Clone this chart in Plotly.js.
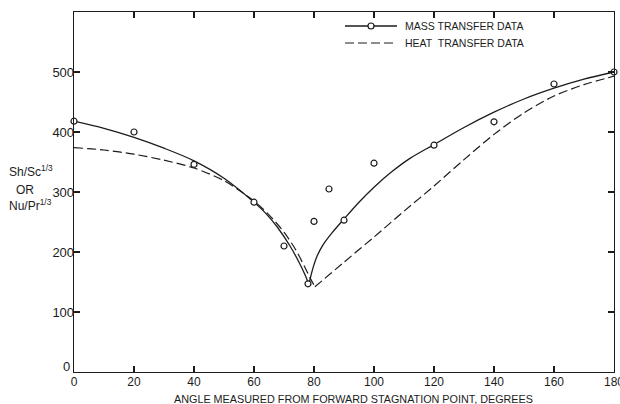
<!DOCTYPE html>
<html>
<head>
<meta charset="utf-8">
<script src="https://cdn.plot.ly/plotly-3.0.1.min.js"></script>
<style>
  html, body { margin: 0; padding: 0; background: #fff; }
  #chart { width: 620px; height: 404px; }
</style>
</head>
<body>
<div id="chart"></div>
<script>
// ---- data ----
// Mass transfer measurements (open circles)
const massAngle = [0, 20, 40, 60, 70, 78, 80, 85, 90, 100, 120, 140, 160, 180];
const massValue = [418, 400, 346, 283, 210, 147, 251, 305, 253, 348, 378, 417, 480, 500];

// Mass transfer fitted curve (solid); null splits the two branches at the cusp
const massCurveAngle = [0, 10, 20, 30, 40, 50, 60, 64, 68, 72, 75, 77, 78.3, null,
                        78.3, 78.7, 79.3, 80, 81, 83, 86, 90, 95, 100, 106, 112, 120, 130, 140, 150, 160, 170, 180];
const massCurveValue = [418, 406, 391, 373, 352, 323, 283, 264, 240, 210, 183, 162, 146, null,
                        146, 155, 167, 179, 193, 212, 232, 255, 283, 308, 334, 356, 379, 407.5, 433, 455, 473, 488, 500];

// Heat transfer curve (dashed)
const heatCurveAngle = [0, 10, 20, 30, 40, 50, 55, 60, 65, 70, 74, 77, 79, 80.3, null,
                        80.3, 90, 100, 110, 120, 130, 140, 150, 160, 170, 180];
const heatCurveValue = [374, 370, 363, 353, 340, 319, 303, 285, 262, 233, 203, 174, 154, 142, null,
                        142, 183, 225, 268, 310, 354, 396, 432, 460, 479, 493];

// Axis ticks
const xTickVals = [0, 20, 40, 60, 80, 100, 120, 140, 160, 180];
const xTickText = ['0', '20', '40', '60', '80', '100', '120', '140', '160', '180'];
const yTickVals = [0, 100, 200, 300, 400, 500];
const yTickText = ['', '100', '200', '300', '400', '500'];
const yZeroLabel = '0';

// Text
const xTitle = 'ANGLE MEASURED FROM FORWARD STAGNATION POINT, DEGREES';
const yTitleLines = ['Sh/Sc<sup>1/3</sup>', 'OR', 'Nu/Pr<sup>1/3</sup>'];
const legendLabels = ['MASS TRANSFER DATA', 'HEAT\u00A0 TRANSFER DATA'];

// ---- drawing ----
const INK = '#1c1c1c';
const FONT = 'Liberation Sans, Arial, sans-serif';

const traces = [
  {
    x: massCurveAngle, y: massCurveValue, type: 'scatter', mode: 'lines',
    line: { color: INK, width: 1.3, shape: 'spline', smoothing: 0.9 },
    connectgaps: false, hoverinfo: 'skip'
  },
  {
    x: heatCurveAngle, y: heatCurveValue, type: 'scatter', mode: 'lines',
    line: { color: INK, width: 1.2, dash: '9px,4px', shape: 'spline', smoothing: 0.8 },
    connectgaps: false, hoverinfo: 'skip'
  },
  {
    x: massAngle, y: massValue, type: 'scatter', mode: 'markers',
    marker: { symbol: 'circle', size: 6, color: 'white', line: { color: INK, width: 1.2 } },
    cliponaxis: false
  }
];

// pixel -> paper helpers (plot area: x 74..614, y 12..372)
const PL = 74, PW = 540, PB = 372, PH = 360;
const px = v => (v - PL) / PW;
const py = v => (PB - v) / PH;

const axisCommon = {
  showgrid: false, zeroline: false,
  showline: true, linecolor: INK, linewidth: 1.3, mirror: 'ticks',
  ticks: 'inside', ticklen: 6, tickwidth: 1.2, tickcolor: INK,
  ticklabeloverflow: 'allow'
};

const layout = {
  width: 620, height: 404,
  margin: { l: 74, r: 6, t: 12, b: 32, pad: 0 },
  paper_bgcolor: 'white', plot_bgcolor: 'white',
  showlegend: false,
  xaxis: Object.assign({}, axisCommon, {
    range: [0, 180], tickmode: 'array', tickvals: xTickVals, ticktext: xTickText,
    tickfont: { family: FONT, size: 12, color: INK }, ticklabelstandoff: -2
  }),
  yaxis: Object.assign({}, axisCommon, {
    range: [0, 600], tickmode: 'array', tickvals: yTickVals, ticktext: yTickText,
    tickfont: { family: FONT, size: 13, color: INK }, ticklabelstandoff: -4
  }),
  shapes: [
    { type: 'line', xref: 'paper', yref: 'paper', x0: px(345), x1: px(397), y0: py(26), y1: py(26),
      line: { color: INK, width: 1.3 } },
    { type: 'circle', xref: 'paper', yref: 'paper', xsizemode: 'pixel', ysizemode: 'pixel',
      xanchor: px(371), yanchor: py(26), x0: -3, x1: 3, y0: -3, y1: 3,
      fillcolor: 'white', line: { color: INK, width: 1.2 } },
    { type: 'line', xref: 'paper', yref: 'paper', x0: px(345), x1: px(397), y0: py(43), y1: py(43),
      line: { color: INK, width: 1.2, dash: '9px,4px' } }
  ],
  annotations: [
    { text: legendLabels[0], xref: 'paper', yref: 'paper', x: px(403), y: py(26),
      xanchor: 'left', yanchor: 'middle', showarrow: false,
      font: { family: FONT, size: 10.5, color: INK } },
    { text: legendLabels[1], xref: 'paper', yref: 'paper', x: px(403), y: py(43),
      xanchor: 'left', yanchor: 'middle', showarrow: false,
      font: { family: FONT, size: 10.5, color: INK } },
    { text: xTitle, xref: 'paper', yref: 'paper', x: px(353), y: py(399),
      xanchor: 'center', yanchor: 'middle', showarrow: false,
      font: { family: FONT, size: 10.8, color: INK } },
    { text: yTitleLines[0], xref: 'paper', yref: 'paper', x: px(7), y: py(171),
      xanchor: 'left', yanchor: 'middle', showarrow: false,
      font: { family: FONT, size: 12, color: INK } },
    { text: yTitleLines[1], xref: 'paper', yref: 'paper', x: px(14), y: py(190),
      xanchor: 'left', yanchor: 'middle', showarrow: false,
      font: { family: FONT, size: 12, color: INK } },
    { text: yTitleLines[2], xref: 'paper', yref: 'paper', x: px(7), y: py(205),
      xanchor: 'left', yanchor: 'middle', showarrow: false,
      font: { family: FONT, size: 12, color: INK } },
    { text: yZeroLabel, xref: 'paper', yref: 'paper', x: px(72), y: py(366),
      xanchor: 'right', yanchor: 'middle', showarrow: false,
      font: { family: FONT, size: 13, color: INK } }
  ]
};

Plotly.newPlot('chart', traces, layout, { staticPlot: true, displayModeBar: false });
</script>
</body>
</html>
